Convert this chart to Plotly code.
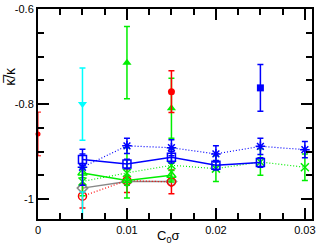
import plotly.graph_objects as go

# ---- data ----
# isolated points
red0_x = [0.0]; red0_y = [-0.863]; red0_e = [0.046]
cyan_x = [0.005, 0.005]; cyan_y = [-0.800, -1.08]; cyan_e = [0.076, 0.095]
gtri_x = [0.01, 0.015]; gtri_y = [-0.713, -0.809]; gtri_e = [0.076, 0.063]
rdot_x = [0.015]; rdot_y = [-0.774]; rdot_e = [0.044]
bsq_x = [0.025]; bsq_y = [-0.766]; bsq_e = [0.049]

# line series
bstar_x = [0.005, 0.01, 0.015, 0.02, 0.025, 0.03]
bstar_y = [-0.933, -0.888, -0.892, -0.905, -0.889, -0.896]
bstar_e = [0.038, 0.016, 0.017, 0.017, 0.017, 0.017]

bosq_x = [0.005, 0.01, 0.015, 0.02, 0.025]
bosq_y = [-0.917, -0.926, -0.912, -0.929, -0.923]
bosq_e = [0.012, 0.010, 0.012, 0.010, 0.010]

gx_x = [0.005, 0.01, 0.015, 0.02, 0.025, 0.03]
gx_y = [-0.963, -0.945, -0.929, -0.936, -0.922, -0.933]
gx_e = [0.030, 0.053, 0.035, 0.027, 0.028, 0.028]

gotri_x = [0.005, 0.01, 0.015]
gotri_y = [-0.945, -0.961, -0.950]
gotri_e = [0.010, 0.010, 0.010]

gray_x = [0.005, 0.01, 0.015]
gray_y = [-0.977, -0.963, -0.963]

rcirc_x = [0.005, 0.01, 0.015]
rcirc_y = [-0.994, -0.961, -0.964]
rcirc_e = [0.025, 0.025, 0.025]

RED = "#ff0000"; GREEN = "#00ee00"; BLUE = "#0000ff"; CYAN = "#00ffff"; GRAY = "#888888"

def eb(arr, color):
    return dict(type="data", array=arr, visible=True, color=color, thickness=1.5, width=3)

fig = go.Figure()

fig.add_trace(go.Scatter(x=gray_x, y=gray_y, mode="lines+markers",
    line=dict(color=GRAY, width=1.5),
    marker=dict(symbol="diamond-open", size=8, color=GRAY, line=dict(width=1.5))))

fig.add_trace(go.Scatter(x=rcirc_x, y=rcirc_y, mode="lines+markers",
    line=dict(color=RED, width=1.2, dash="1px,2px"),
    marker=dict(symbol="circle-open", size=8, color=RED, line=dict(width=1.5)),
    error_y=eb(rcirc_e, RED)))

fig.add_trace(go.Scatter(x=gotri_x, y=gotri_y, mode="lines+markers",
    line=dict(color=GREEN, width=1.5),
    marker=dict(symbol="triangle-up-open", size=8, color=GREEN, line=dict(width=1.5)),
    error_y=eb(gotri_e, GREEN)))

fig.add_trace(go.Scatter(x=gx_x, y=gx_y, mode="lines+markers",
    line=dict(color=GREEN, width=1.2, dash="1px,2px"),
    marker=dict(symbol="x-thin-open", size=8, color=GREEN, line=dict(width=1.5, color=GREEN)),
    error_y=eb(gx_e, GREEN)))

fig.add_trace(go.Scatter(x=bosq_x, y=bosq_y, mode="lines+markers",
    line=dict(color=BLUE, width=1.5),
    marker=dict(symbol="square-open", size=8, color=BLUE, line=dict(width=1.5)),
    error_y=eb(bosq_e, BLUE)))

fig.add_trace(go.Scatter(x=bstar_x, y=bstar_y, mode="lines+markers",
    line=dict(color=BLUE, width=1.2, dash="1px,2px"),
    marker=dict(symbol="asterisk-open", size=8, color=BLUE, line=dict(width=1.5, color=BLUE)),
    error_y=eb(bstar_e, BLUE)))

fig.add_trace(go.Scatter(x=cyan_x, y=cyan_y, mode="markers",
    marker=dict(symbol="triangle-down", size=8, color=CYAN),
    error_y=eb(cyan_e, CYAN)))

fig.add_trace(go.Scatter(x=gtri_x, y=gtri_y, mode="markers",
    marker=dict(symbol="triangle-up", size=8, color=GREEN),
    error_y=eb(gtri_e, GREEN)))

fig.add_trace(go.Scatter(x=rdot_x, y=rdot_y, mode="markers",
    marker=dict(symbol="circle", size=7, color=RED),
    error_y=eb(rdot_e, RED)))

fig.add_trace(go.Scatter(x=bsq_x, y=bsq_y, mode="markers",
    marker=dict(symbol="square", size=7, color=BLUE),
    error_y=eb(bsq_e, BLUE)))

fig.add_trace(go.Scatter(x=red0_x, y=red0_y, mode="markers", cliponaxis=False,
    marker=dict(symbol="circle", size=5, color=RED),
    error_y=dict(type="data", array=red0_e, visible=True, color=RED, thickness=1, width=3)))

axis_common = dict(showgrid=False, zeroline=False, showline=True, linecolor="black",
    linewidth=2, mirror="allticks", ticks="inside", ticklen=11, tickwidth=1.5,
    automargin=False,
    tickcolor="black", tickfont=dict(family="Liberation Sans, Arial", size=11, color="black"))

fig.update_xaxes(range=[0, 0.0308], tickvals=[0, 0.01, 0.02, 0.03],
    ticktext=["0", "0.01", "0.02", "0.03"],
    minor=dict(dtick=0.0025, tick0=0, ticks="inside", ticklen=6, tickwidth=1.5, tickcolor="black"),
    **axis_common)
fig.update_yaxes(range=[-1.042, -0.6], tickvals=[-1, -0.8, -0.6],
    ticktext=["-1", "-0.8", "-0.6"],
    minor=dict(dtick=0.05, tick0=0, ticks="inside", ticklen=6, tickwidth=1.5, tickcolor="black"),
    **axis_common)

fig.add_annotation(text="C<sub>0</sub>σ", xref="paper", yref="paper", x=0.475, y=-0.035,
    xanchor="center", yanchor="top", showarrow=False,
    font=dict(family="Liberation Sans, Arial", size=13, color="black"))
fig.add_annotation(text="κ\u0305/κ", xref="paper", yref="paper", x=-0.1, y=0.68,
    xanchor="center", yanchor="middle", textangle=-90, showarrow=False,
    font=dict(family="Liberation Sans, Arial", size=14, color="black"))

fig.update_layout(width=325, height=247, showlegend=False,
    margin=dict(l=38, r=13, t=9, b=28),
    plot_bgcolor="white", paper_bgcolor="white")

fig.write_html("out.html", config={"displayModeBar": False},
               post_script="document.body.style.margin='0';")
